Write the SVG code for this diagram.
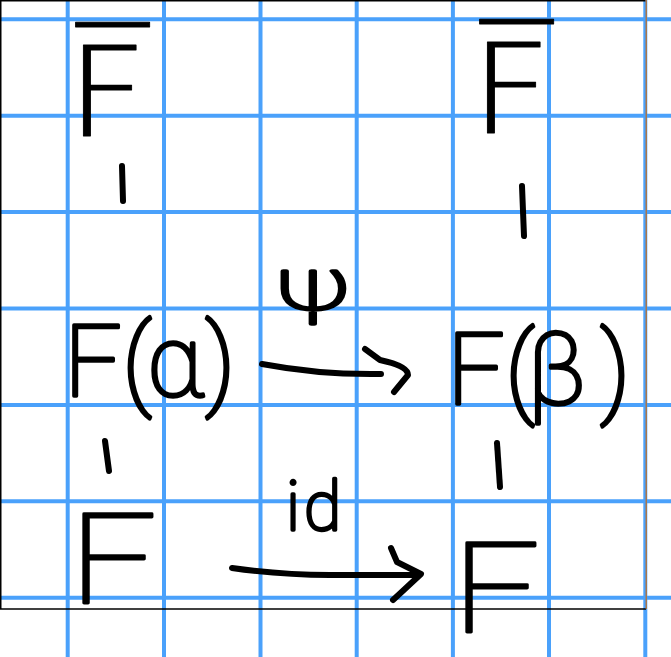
<svg xmlns="http://www.w3.org/2000/svg" width="671" height="657" viewBox="0 0 671 657">
<style>
.grid line{stroke:#4aa1fb;stroke-width:4}
.lbl{font-family:Roboto,"DejaVu Sans",sans-serif;font-weight:100;fill:#000;stroke:#000;stroke-width:3.4;stroke-linejoin:round}
.big{font-size:127px;stroke-width:2.8}
.bar{font-family:"DejaVu Sans",sans-serif;font-size:124px;font-weight:200;stroke-width:0.8}
.mid{font-size:101px}
.ink{fill:none;stroke:#000;stroke-width:6;stroke-linecap:round;stroke-linejoin:round}
</style>
<rect x="0" y="0" width="671" height="657" fill="#fff"/>
<g class="grid">
<line x1="67.7" y1="0" x2="67.7" y2="657"/>
<line x1="164" y1="0" x2="164" y2="657"/>
<line x1="260.5" y1="0" x2="260.5" y2="657"/>
<line x1="356.7" y1="0" x2="356.7" y2="657"/>
<line x1="452.9" y1="0" x2="452.9" y2="657"/>
<line x1="549" y1="0" x2="549" y2="657"/>
<line x1="645.3" y1="0" x2="645.3" y2="657"/>
<line x1="0" y1="19.3" x2="671" y2="19.3"/>
<line x1="0" y1="115.7" x2="671" y2="115.7"/>
<line x1="0" y1="212.1" x2="671" y2="212.1"/>
<line x1="0" y1="308.5" x2="671" y2="308.5"/>
<line x1="0" y1="404.9" x2="671" y2="404.9"/>
<line x1="0" y1="501.3" x2="671" y2="501.3"/>
<line x1="0" y1="597.7" x2="671" y2="597.7"/>
</g>
<path d="M0.75 609 V0.75 H645.5" fill="none" stroke="#000" stroke-width="1.5"/>
<line x1="0" y1="609" x2="646" y2="609" stroke="#000" stroke-width="1.5"/>
<line x1="646.2" y1="0" x2="646.2" y2="609" stroke="#c26b1e" stroke-width="1.2"/>

<g id="node-fbar-left"><text class="lbl bar" x="66" y="136" textLength="82" lengthAdjust="spacingAndGlyphs">F&#x0305;</text></g>
<g id="node-fbar-right"><text class="lbl bar" x="470" y="133" textLength="82" lengthAdjust="spacingAndGlyphs">F&#x0305;</text></g>
<g id="node-falpha"><text class="lbl mid" x="64 122 147 205" y="396">F(α)</text></g>
<g id="node-fbeta"><text class="lbl mid" x="447 505 527 600" y="404">F(β)</text></g>
<g id="node-f-left"><text class="lbl big" x="69" y="603" textLength="88" lengthAdjust="spacingAndGlyphs">F</text></g>
<g id="node-f-right"><text class="lbl big" x="452" y="632" textLength="88" lengthAdjust="spacingAndGlyphs">F</text></g>

<g id="connectors">
<path class="ink" d="M122 166 L123 201"/>
<path class="ink" d="M522 186 L524 236"/>
<path class="ink" d="M105 441 L109 471"/>
<path class="ink" d="M497 443 L500 487"/>
<path class="ink" d="M262 364 Q320 375 381 374"/>
<path class="ink" d="M365 349 L380 360 Q408 366 408 375 L394 392"/>
<text class="lbl" x="313" y="309" font-size="72" text-anchor="middle" textLength="76" lengthAdjust="spacingAndGlyphs">ψ</text>
<path class="ink" d="M232 568 Q280 575 330 575 L418 575"/>
<path class="ink" d="M391 548 L397 562 L421 574 L393 600"/>
<text class="lbl" x="286 304" y="530" font-size="68">id</text>
</g>
</svg>
